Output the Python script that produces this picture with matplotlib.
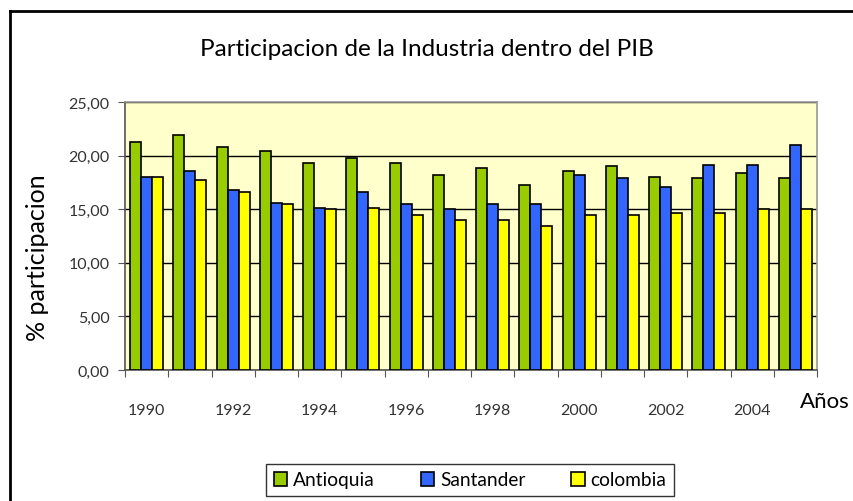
import numpy as np
import matplotlib.pyplot as plt
from matplotlib.lines import Line2D

# data
years = list(range(1990, 2006))
antioquia = [21.27, 21.92, 20.77, 20.46, 19.34, 19.81, 19.31, 18.22,
             18.84, 17.23, 18.53, 19.03, 18.03, 17.88, 18.38, 17.88]
santander = [18.03, 18.53, 16.79, 15.61, 15.14, 16.60, 15.45, 14.99,
             15.45, 15.45, 18.22, 17.88, 17.07, 19.15, 19.15, 20.96]
colombia = [18.03, 17.72, 16.60, 15.45, 14.99, 15.14, 14.49, 14.02,
            13.99, 13.40, 14.49, 14.49, 14.65, 14.65, 14.99, 14.99]
series_names = ["Antioquia", "Santander", "colombia"]
series_colors = ["#99CC00", "#3366FF", "#FFFF00"]
yticks = [0, 5, 10, 15, 20, 25]

plt.rcParams['font.family'] = ['Lato', 'DejaVu Sans']

fig = plt.figure(figsize=(8.54, 5.02), dpi=100)
W, H = 854, 502
ax = fig.add_axes([125 / W, 1 - 371 / H, (817 - 125) / W, (371 - 103) / H])
ax.set_facecolor("#FFFFCC")

x = np.arange(len(years))
bw = 0.255
for i, (vals, name, col) in enumerate(zip([antioquia, santander, colombia],
                                          series_names, series_colors)):
    ax.bar(x + (i - 1) * bw, vals, width=bw, color=col, edgecolor="black",
           linewidth=1.2, label=name, zorder=3)

ax.set_xlim(-0.5, len(years) - 0.5)
ax.set_ylim(0, 25)
ax.set_yticks(yticks)
ax.set_yticklabels([f"{v:.2f}".replace(".", ",") for v in yticks],
                   fontsize=11.5, color="#333333")
ax.yaxis.grid(True, color="black", linewidth=1, zorder=1)

# category ticks sit between groups, labels under every other group
ax.set_xticks(np.arange(-0.5, len(years), 1))
ax.set_xticklabels([])
ax.set_xticks(x[::2], minor=True)
ax.set_xticklabels([str(y) for y in years[::2]], minor=True,
                   fontsize=11.5, color="#333333")
ax.tick_params(axis="x", which="major", length=5, color="#555555")
ax.tick_params(axis="x", which="minor", length=0, pad=24)
ax.tick_params(axis="y", length=5, color="#555555", pad=6)

for s in ["left", "bottom"]:
    ax.spines[s].set_color("#555555")
    ax.spines[s].set_linewidth(1.2)
for s in ["top", "right"]:
    ax.spines[s].set_color("#999999")
    ax.spines[s].set_linewidth(1.2)

fig.text(427 / W, 1 - 50 / H, "Participacion de la Industria dentro del PIB",
         ha="center", va="center", fontsize=17.5)
fig.text(38 / W, 1 - 258 / H, "% participacion", rotation=90,
         ha="center", va="center", fontsize=18)
fig.text(850 / W, 1 - 402 / H, "Años", ha="right", va="center", fontsize=16)

leg = ax.legend(loc="center", bbox_to_anchor=(470 / W, 1 - 481 / H),
                bbox_transform=fig.transFigure, ncol=3, frameon=True,
                fancybox=False, fontsize=13.8, handlelength=0.7,
                handleheight=0.7, handletextpad=0.3, columnspacing=2.4,
                borderpad=0.4)
leg.get_frame().set_edgecolor("black")
leg.get_frame().set_linewidth(1)

# outer chart border (only top and left visible in the reference)
fig.add_artist(Line2D([10 / W, 10 / W], [0, 1 - 12 / H], color="black",
                      linewidth=2, transform=fig.transFigure))
fig.add_artist(Line2D([10 / W, 1], [1 - 12 / H, 1 - 12 / H], color="black",
                      linewidth=2, transform=fig.transFigure))

fig.savefig("out.png", dpi=100)
